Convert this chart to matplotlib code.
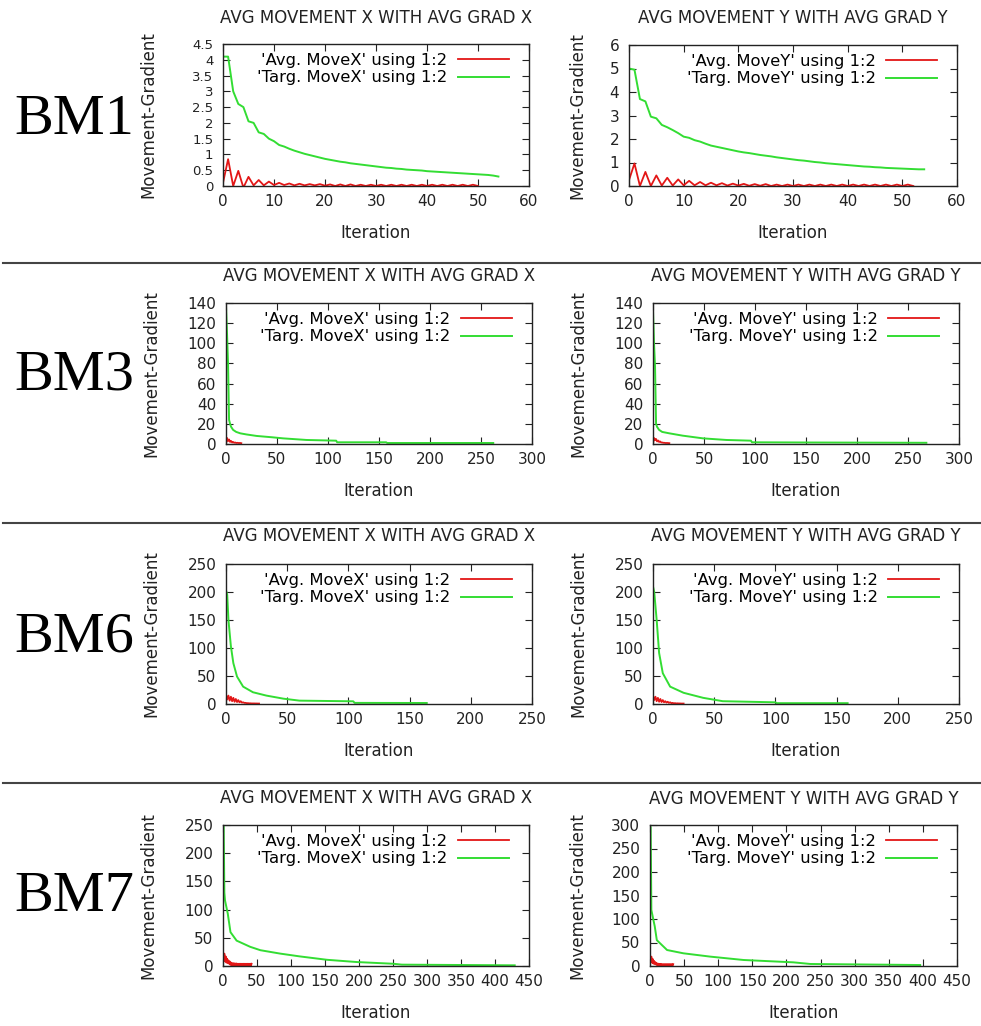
import matplotlib
matplotlib.use("Agg")
import matplotlib.pyplot as plt
from matplotlib.lines import Line2D
from matplotlib.ticker import FormatStrFormatter, MultipleLocator

W, H = 981, 1026
RED = "#e31616"
GREEN = "#33dd33"
TXT = 12

# ---- data ----
# BM1, X direction (one value per iteration)
bm1_x_avg = [0.1, 0.85, 0.0, 0.48, -0.05, 0.29, 0.02, 0.19, 0.02, 0.14, 0.03, 0.1, 0.03,
             0.08, 0.02, 0.07, 0.02, 0.06, 0.02, 0.06, 0.01, 0.05, 0.0, 0.05, 0.0, 0.05,
             0.0, 0.04, 0.0, 0.04, 0.0, 0.04, 0.0, 0.04, 0.0, 0.04, 0.0, 0.04, 0.0, 0.04,
             0.0, 0.04, 0.0, 0.04, 0.0, 0.04, 0.0, 0.04, 0.0, 0.04, 0.0]
bm1_x_targ = [4.1, 4.1, 3.0, 2.6, 2.5, 2.05, 2.0, 1.7, 1.65, 1.5, 1.42, 1.3, 1.25, 1.18,
              1.12, 1.07, 1.02, 0.98, 0.94, 0.9, 0.86, 0.83, 0.8, 0.77, 0.75, 0.72, 0.7,
              0.68, 0.66, 0.64, 0.62, 0.6, 0.58, 0.57, 0.55, 0.54, 0.52, 0.51, 0.5, 0.49,
              0.47, 0.46, 0.45, 0.44, 0.43, 0.42, 0.41, 0.4, 0.39, 0.38, 0.37, 0.36, 0.35,
              0.33, 0.3]
# BM1, Y direction
bm1_y_avg = [0.25, 0.96, 0.0, 0.6, 0.0, 0.45, 0.02, 0.35, 0.02, 0.28, 0.03, 0.22, 0.03,
             0.17, 0.03, 0.14, 0.03, 0.12, 0.02, 0.1, 0.02, 0.09, 0.01, 0.08, 0.01, 0.08,
             0.0, 0.06, 0.0, 0.06, 0.0, 0.06, 0.0, 0.06, 0.0, 0.06, 0.0, 0.06, 0.0, 0.06,
             0.0, 0.06, 0.0, 0.06, 0.0, 0.06, 0.0, 0.06, 0.0, 0.06, 0.0, 0.06, 0.0]
bm1_y_targ = [5.0, 4.95, 3.7, 3.6, 2.95, 2.88, 2.6, 2.5, 2.38, 2.25, 2.1, 2.05, 1.95, 1.89,
              1.8, 1.72, 1.67, 1.62, 1.57, 1.52, 1.47, 1.43, 1.4, 1.36, 1.32, 1.29, 1.26,
              1.22, 1.19, 1.16, 1.13, 1.1, 1.08, 1.05, 1.02, 1.0, 0.97, 0.95, 0.93, 0.91,
              0.89, 0.87, 0.85, 0.83, 0.82, 0.8, 0.79, 0.77, 0.76, 0.75, 0.74, 0.73, 0.72,
              0.71, 0.71]

# BM3
bm3_x_avg = [0, 6, 3, 4.5, 2, 3, 1.5, 2, 1.2, 1.5, 1, 1.2, 1, 1, 1, 0.8]
bm3_x_targ_it = [0, 1, 2, 3, 4, 5, 7, 10, 14, 20, 30, 46, 56, 79, 108, 109, 157, 158, 262]
bm3_x_targ = [137, 110, 80, 24, 20, 17, 14, 12, 10.6, 9.5, 8, 6.6, 5.6, 4, 3.3, 1.7, 1.7, 1.0, 1.0]
bm3_y_avg = [0, 6, 4, 5, 2.5, 3.5, 2, 2.5, 1.5, 1.5, 1.2, 1.2, 1, 1, 1, 0.9, 0.8]
bm3_y_targ_it = [0, 1, 2, 3, 4, 6, 9, 16, 29, 49, 72, 96, 97, 150, 268]
bm3_y_targ = [133, 100, 77, 20, 17, 14, 12, 10.6, 8.3, 5.6, 4, 3.3, 1.7, 1.5, 1.2]

# BM6
bm6_x_avg = [17, 8, 15, 6, 13, 5, 11, 4, 9, 3.5, 7, 3, 5, 2.5, 3, 2, 2, 1.5, 1.5, 1.2,
             1.2, 1, 1, 1, 0.9, 0.9, 0.8, 0.8]
bm6_x_targ_it = [0, 1, 2, 4, 6, 9, 14, 22, 33, 47, 60, 104, 105, 164]
bm6_x_targ = [203, 195, 150, 103, 73, 49, 31, 21, 15, 9.5, 6, 4.8, 2, 1.8]
bm6_y_avg = [15, 7, 13, 5, 11, 4, 9, 3.5, 7, 3, 5, 2.5, 4, 2, 3, 1.5, 2, 1.2, 1.5, 1,
             1.2, 1, 1, 0.8, 0.8, 0.8]
bm6_y_targ_it = [0, 1, 3, 5, 8, 14, 25, 41, 57, 100, 101, 159]
bm6_y_targ = [210, 200, 150, 91, 55, 31, 20, 11, 5, 3, 1.5, 1.5]

# BM7
bm7_x_avg = [27, 10, 22, 8, 17, 6, 13, 5, 10, 4, 8, 2, 6, 1, 5, 0.5, 5, 0.5, 4.5, 0.5,
             4.5, 0.5, 4, 0.5, 4, 0.5, 4, 0.5, 4, 0.5, 4, 0.5, 4, 0.5, 4, 0.5, 4, 0.5,
             4, 0.5, 4, 0.5, 4]
bm7_x_targ_it = [0, 1, 2, 3, 7, 11, 20, 40, 55, 84, 113, 153, 197, 250, 263, 429]
bm7_x_targ = [250, 250, 130, 116, 93, 60, 45, 34, 28, 22, 17, 11, 7, 4, 2.4, 1.2]
bm7_y_avg = [25, 9, 20, 7, 15, 5, 11, 4, 8, 3, 6, 1, 5, 0.5, 4.5, 0.5, 4.5, 0.5, 4,
             0.5, 4, 0.5, 4, 0.5, 4, 0.5, 4, 0.5, 4, 0.5, 4, 0.5, 4, 0.5, 4]
bm7_y_targ_it = [0, 1, 2, 7, 10, 25, 49, 88, 137, 210, 235, 396]
bm7_y_targ = [296, 296, 119, 84, 55, 34, 27, 20, 12.8, 7.8, 4.3, 2.1]

bm_names = ["BM1", "BM3", "BM6", "BM7"]
title_x = "AVG MOVEMENT X WITH AVG GRAD X"
title_y = "AVG MOVEMENT Y WITH AVG GRAD Y"

# panel layout in pixels: (left, top, right, bottom)
panels = [
    # BM1
    dict(box=(223, 44, 529, 186), avg=bm1_x_avg, targ_it=list(range(len(bm1_x_targ))), targ=bm1_x_targ,
         axis="X", xmax=60, xstep=10, ymax=4.5, ystep=0.5, title_y=18, ylab_x=149),
    dict(box=(629, 45, 957, 186), avg=bm1_y_avg, targ_it=list(range(len(bm1_y_targ))), targ=bm1_y_targ,
         axis="Y", xmax=60, xstep=10, ymax=6, ystep=1, title_y=18, ylab_x=578),
    # BM3
    dict(box=(226, 303, 532, 444), avg=bm3_x_avg, targ_it=bm3_x_targ_it, targ=bm3_x_targ,
         axis="X", xmax=300, xstep=50, ymax=140, ystep=20, title_y=276, ylab_x=152),
    dict(box=(653, 303, 959, 444), avg=bm3_y_avg, targ_it=bm3_y_targ_it, targ=bm3_y_targ,
         axis="Y", xmax=300, xstep=50, ymax=140, ystep=20, title_y=276, ylab_x=579),
    # BM6
    dict(box=(226, 564, 532, 704), avg=bm6_x_avg, targ_it=bm6_x_targ_it, targ=bm6_x_targ,
         axis="X", xmax=250, xstep=50, ymax=250, ystep=50, title_y=536, ylab_x=152),
    dict(box=(653, 564, 959, 704), avg=bm6_y_avg, targ_it=bm6_y_targ_it, targ=bm6_y_targ,
         axis="Y", xmax=250, xstep=50, ymax=250, ystep=50, title_y=536, ylab_x=579),
    # BM7
    dict(box=(223, 825, 529, 966), avg=bm7_x_avg, targ_it=bm7_x_targ_it, targ=bm7_x_targ,
         axis="X", xmax=450, xstep=50, ymax=250, ystep=50, title_y=798, ylab_x=149),
    dict(box=(650, 825, 957, 966), avg=bm7_y_avg, targ_it=bm7_y_targ_it, targ=bm7_y_targ,
         axis="Y", xmax=450, xstep=50, ymax=300, ystep=50, title_y=799, ylab_x=578),
]

bm_label_y = [120, 376, 638, 897]
separator_y = [263, 523, 783]

plt.rcParams["font.family"] = "DejaVu Sans"
plt.rcParams["font.size"] = TXT

fig = plt.figure(figsize=(W / 100, H / 100), dpi=100)
fig.patch.set_facecolor("white")

for p in panels:
    l, t, r, b = p["box"]
    w, h = r - l, b - t
    ax = fig.add_axes([l / W, 1 - b / H, w / W, h / H])

    avg_it = list(range(len(p["avg"])))
    ax.plot(avg_it, p["avg"], color=RED, lw=1.3, zorder=2,
            label="'Avg. Move%s' using 1:2" % p["axis"])
    ax.plot(p["targ_it"], p["targ"], color=GREEN, lw=1.4, zorder=2,
            label="'Targ. Move%s' using 1:2" % p["axis"])

    ax.set_xlim(0, p["xmax"])
    ax.set_ylim(0, p["ymax"])
    ax.xaxis.set_major_locator(MultipleLocator(p["xstep"]))
    ax.yaxis.set_major_locator(MultipleLocator(p["ystep"]))
    ax.yaxis.set_major_formatter(FormatStrFormatter("%g"))
    ax.tick_params(direction="in", top=True, right=True, length=5, width=0.8,
                   labelsize=11, colors="#222222")
    ax.tick_params(axis="x", pad=6)
    ax.tick_params(axis="y", pad=7)
    # the 0.5 steps sit close together, so these labels get a smaller size
    if p["ystep"] == 0.5:
        ax.tick_params(axis="y", labelsize=9.5)
    for s in ax.spines.values():
        s.set_linewidth(1.0)
        s.set_color("#222222")
        s.set_zorder(3)

    ax.set_xlabel("Iteration", fontsize=TXT, color="#222222")
    ax.xaxis.set_label_coords(0.5, -38 / h)
    ax.set_ylabel("Movement-Gradient", fontsize=TXT, color="#222222")
    ax.yaxis.set_label_coords((p["ylab_x"] + 8 - l) / w, 0.5)

    fig.text((l + r) / 2 / W, 1 - p["title_y"] / H,
             title_x if p["axis"] == "X" else title_y,
             ha="center", va="center", fontsize=TXT, color="#222222")

    ax.legend(loc="upper right", bbox_to_anchor=(1 - 20 / w, 1 - 9 / h),
              frameon=False, markerfirst=False, borderaxespad=0, borderpad=0,
              handlelength=3.1, handletextpad=0.65, labelspacing=0.15, fontsize=11.8)

for name, y in zip(bm_names, bm_label_y):
    fig.text(74 / W, 1 - y / H, name, family="Liberation Serif", fontsize=42,
             ha="center", va="center", color="black")

for y in separator_y:
    fig.add_artist(Line2D([3 / W, 1.0], [1 - y / H, 1 - y / H], transform=fig.transFigure,
                          color="#444444", lw=1.5))

fig.savefig("out.png", dpi=100)
